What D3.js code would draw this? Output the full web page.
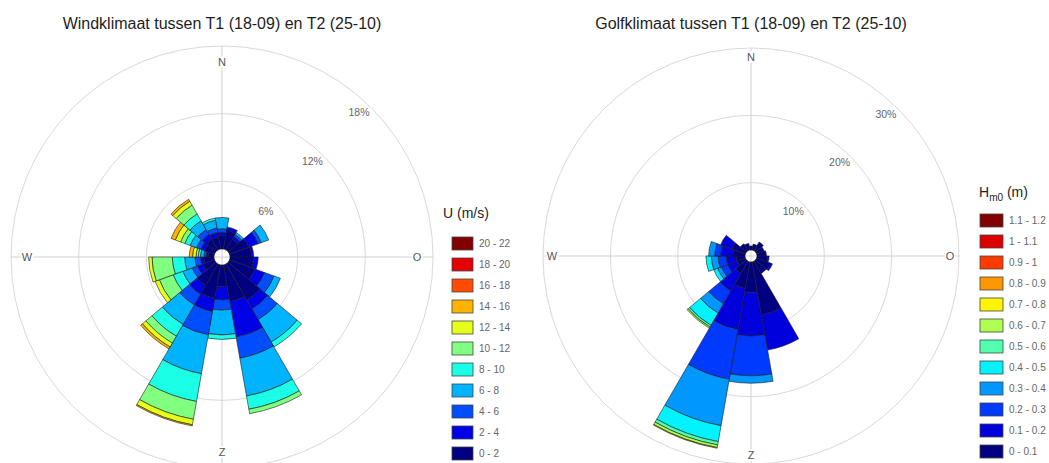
<!DOCTYPE html>
<html>
<head>
<meta charset="utf-8">
<script src="https://cdn.jsdelivr.net/npm/d3@7"></script>
<style>
  body { margin: 0; background: #fff; }
  text { font-family: "Liberation Sans", Arial, sans-serif; }
</style>
</head>
<body>
<div id="chart"></div>
<script>
const WIDTH = 1049, HEIGHT = 463;

// direction sectors (degrees, clockwise from north), 20 degrees wide
const directions = [0, 20, 40, 60, 80, 100, 120, 140, 160, 180, 200, 220, 240, 260, 280, 300, 320, 340];
const compass = [{a: 0, t: 'N'}, {a: 90, t: 'O'}, {a: 180, t: 'Z'}, {a: 270, t: 'W'}];

// wind: % per speed class, one row per direction (0-2, 2-4, ... m/s)
const windClasses = ['0 - 2', '2 - 4', '4 - 6', '6 - 8', '8 - 10', '10 - 12', '12 - 14', '14 - 16', '16 - 18', '18 - 20', '20 - 22'];
const windTicks = [6, 12, 18];
const windFreq = [
  [1.2, 0.3, 0.3, 1.0],
  [1.7, 0.3],
  [1.1, 0.3, 0.2, 0.2],
  [1.8, 0.9, 0.3, 0.7],
  [1.9, 0.2],
  [2.1, 0.4],
  [2.4, 0.9, 0.9, 0.6],
  [3.7, 0.9, 1.1, 2.3, 0.5],
  [3.3, 3.2, 1.9, 3.4, 1.2, 0.4],
  [1.9, 1.2, 0.9, 2.2, 0.4],
  [3.0, 1.2, 2.1, 3.5, 2.5, 1.6, 0.5, 0.1],
  [2.2, 0.9, 1.1, 2.0, 1.2, 0.7, 0.4, 0.2],
  [1.1, 0.5, 0.5, 0.9, 0.9, 1.3, 0.4],
  [0.9, 0.3, 0.5, 0.9, 1.1, 1.8, 0.3],
  [0.5, 0.2, 0.2, 0.3, 0.2, 0.2, 0.3, 0.3],
  [0.9, 0.4, 0.4, 0.6, 0.5, 0.4, 0.5, 0.4],
  [1.1, 0.5, 0.5, 0.9, 0.7, 0.9, 0.4, 0.2],
  [1.1, 0.4, 0.4, 0.7, 0.2]
];

// waves: % per Hm0 class, one row per direction (0-0.1, 0.1-0.2, ... m)
const waveClasses = ['0 - 0.1', '0.1 - 0.2', '0.2 - 0.3', '0.3 - 0.4', '0.4 - 0.5', '0.5 - 0.6', '0.6 - 0.7', '0.7 - 0.8', '0.8 - 0.9', '0.9 - 1', '1 - 1.1', '1.1 - 1.2'];
const waveTicks = [10, 20, 30];
const waveFreq = [
  [0.6],
  [0.9],
  [1.5],
  [1.2],
  [1.4],
  [1.6, 0.2],
  [2.2, 0.3],
  [2.1],
  [8.0, 5.3],
  [4.5, 6.5, 5.9, 1.1],
  [4.0, 6.2, 7.5, 7.0, 2.4, 0.5, 0.4, 0.1],
  [2.1, 3.0, 2.2, 1.6, 2.1, 0.3, 0.2],
  [1.3, 1.5, 1.0, 0.6, 0.6],
  [1.3, 1.5, 1.2, 1.0, 0.8],
  [1.8, 1.8, 0.9, 0.9],
  [2.1, 1.8],
  [1.2],
  [1.0]
];

const svg = d3.select('#chart')
  .append('svg')
    .attr('width', WIDTH)
    .attr('height', HEIGHT);

// matlab style jet colormap
function jet(t) {
  const c = v => Math.round(Math.max(0, Math.min(1, v)) * 255);
  return d3.rgb(c(1.5 - Math.abs(4 * t - 3)), c(1.5 - Math.abs(4 * t - 2)), c(1.5 - Math.abs(4 * t - 1))).formatHex();
}

function drawRose(cfg) {
  const g = svg.append('g').attr('transform', `translate(${cfg.cx}, ${cfg.cy})`);
  const r = d3.scaleLinear().domain([0, cfg.max]).range([cfg.r0, cfg.R]);
  const colors = cfg.classes.map((d, i) => jet(i / (cfg.classes.length - 1)));
  const rad = a => a * Math.PI / 180;

  // grid circles
  g.selectAll('circle.ring')
    .data(cfg.ticks)
    .join('circle')
      .attr('class', 'ring')
      .attr('r', d => r(d))
      .attr('fill', 'none')
      .attr('stroke', '#d9d9d9')
      .attr('stroke-width', 1);

  // cross lines
  g.append('line')
    .attr('x1', -cfg.R).attr('x2', cfg.R).attr('y1', 0).attr('y2', 0)
    .attr('stroke', '#d0d0d0');
  g.append('line')
    .attr('y1', -cfg.R).attr('y2', cfg.R).attr('x1', 0).attr('x2', 0)
    .attr('stroke', '#d0d0d0');

  // stacked segments
  const segs = [];
  cfg.freq.forEach((row, i) => {
    let acc = 0;
    row.forEach((v, k) => {
      segs.push({dir: directions[i], k: k, a: acc, b: acc + v});
      acc += v;
    });
  });

  const arc = d3.arc()
    .innerRadius(d => r(d.a))
    .outerRadius(d => r(d.b))
    .startAngle(d => rad(d.dir - 10))
    .endAngle(d => rad(d.dir + 10));

  g.selectAll('path.seg')
    .data(segs)
    .join('path')
      .attr('class', 'seg')
      .attr('d', arc)
      .attr('fill', d => colors[d.k])
      .attr('stroke', '#1b1b1b')
      .attr('stroke-width', 0.6)
      .attr('stroke-linejoin', 'round');

  // percentage labels
  g.selectAll('text.tick')
    .data(cfg.ticks)
    .join('text')
      .attr('class', 'tick')
      .attr('x', d => (r(d) - 12) * Math.sin(rad(43.5)))
      .attr('y', d => -(r(d) - 12) * Math.cos(rad(43.5)))
      .attr('dy', '0.35em')
      .attr('text-anchor', 'middle')
      .attr('font-size', 10.5)
      .attr('fill', '#666')
      .text(d => d + '%');

  // compass labels
  g.selectAll('text.dir')
    .data(compass)
    .join('text')
      .attr('class', 'dir')
      .attr('x', d => cfg.labelR * Math.sin(rad(d.a)))
      .attr('y', d => -cfg.labelR * Math.cos(rad(d.a)))
      .attr('dy', '0.35em')
      .attr('text-anchor', 'middle')
      .attr('font-size', 11)
      .attr('fill', '#555')
      .attr('stroke', '#fff')
      .attr('stroke-width', 4)
      .attr('paint-order', 'stroke')
      .text(d => d.t);

  // title
  svg.append('text')
    .attr('x', cfg.cx)
    .attr('y', 29)
    .attr('text-anchor', 'middle')
    .attr('font-size', 16)
    .attr('fill', '#1e1e1e')
    .text(cfg.title);

  // legend
  const lg = svg.append('g').attr('transform', `translate(${cfg.legX}, ${cfg.legY})`);
  const items = cfg.classes.map((c, i) => ({c: c, color: colors[i]})).reverse();
  const row = lg.selectAll('g.item')
    .data(items)
    .join('g')
      .attr('class', 'item')
      .attr('transform', (d, i) => `translate(0, ${i * 21})`);
  row.append('rect')
    .attr('width', cfg.swW)
    .attr('height', 13)
    .attr('fill', d => d.color)
    .attr('stroke', '#444')
    .attr('stroke-width', 0.8);
  row.append('text')
    .attr('x', cfg.swW + 6)
    .attr('y', 6.5)
    .attr('dy', '0.35em')
    .attr('font-size', 10)
    .attr('fill', '#666')
    .text(d => d.c);

  return lg;
}

const windLeg = drawRose({
  cx: 222, cy: 257, r0: 8, R: 211, max: 18, labelR: 195,
  ticks: windTicks, freq: windFreq, classes: windClasses,
  title: 'Windklimaat tussen T1 (18-09) en T2 (25-10)',
  legX: 452, legY: 237, swW: 21
});
svg.append('text')
  .attr('x', 443).attr('y', 218)
  .attr('font-size', 14).attr('fill', '#1e1e1e')
  .text('U (m/s)');

const waveLeg = drawRose({
  cx: 751, cy: 256, r0: 6, R: 208, max: 30, labelR: 199,
  ticks: waveTicks, freq: waveFreq, classes: waveClasses,
  title: 'Golfklimaat tussen T1 (18-09) en T2 (25-10)',
  legX: 980, legY: 214, swW: 23
});
const hTitle = svg.append('text')
  .attr('x', 979).attr('y', 197)
  .attr('font-size', 14).attr('fill', '#1e1e1e');
hTitle.append('tspan').text('H');
hTitle.append('tspan').attr('font-size', 10).attr('dy', 4).text('m0');
hTitle.append('tspan').attr('dy', -4).text(' (m)');
</script>
</body>
</html>
